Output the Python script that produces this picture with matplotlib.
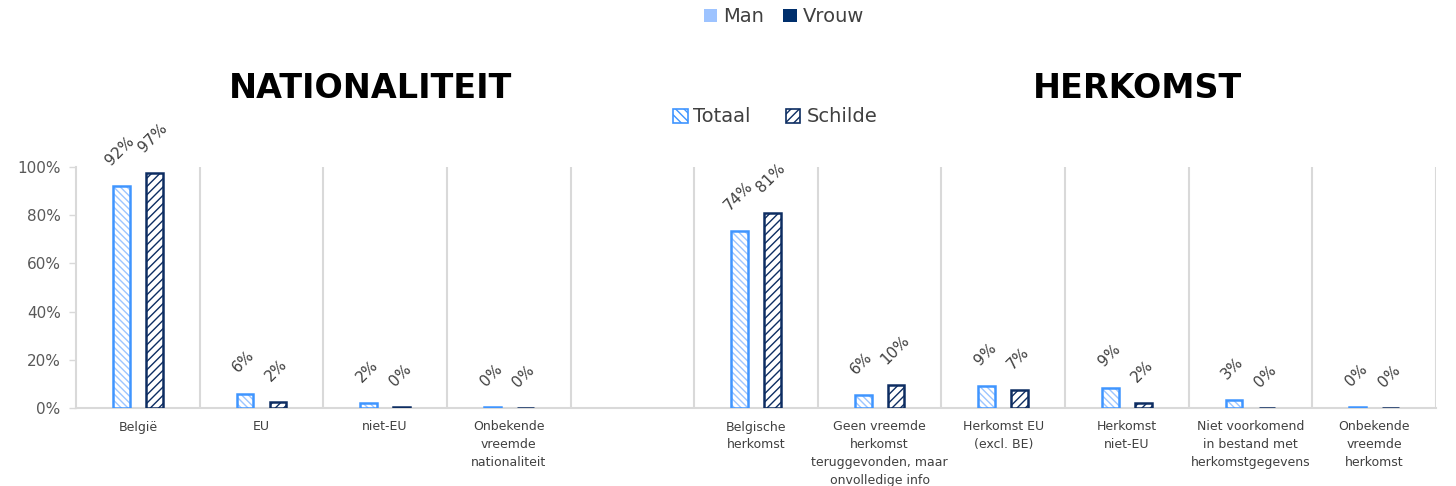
import matplotlib
matplotlib.use("Agg")
import matplotlib.pyplot as plt
from matplotlib.patches import Patch
import numpy as np

categories = ["België", "EU", "niet-EU", "Onbekende\nvreemde\nnationaliteit", "",
              "Belgische\nherkomst", "Geen vreemde\nherkomst\nteruggevonden, maar\nonvolledige info",
              "Herkomst EU\n(excl. BE)", "Herkomst\nniet-EU", "Niet voorkomend\nin bestand met\nherkomstgegevens",
              "Onbekende\nvreemde\nherkomst"]
totaal = [0.92, 0.06, 0.02, 0.004, None, 0.735, 0.055, 0.09, 0.085, 0.032, 0.003]
schilde = [0.975, 0.025, 0.005, 0.0, None, 0.81, 0.095, 0.073, 0.022, 0.0, 0.0]
totaal_labels = ["92%", "6%", "2%", "0%", None, "74%", "6%", "9%", "9%", "3%", "0%"]
schilde_labels = ["97%", "2%", "0%", "0%", None, "81%", "10%", "7%", "2%", "0%", "0%"]
yticks = [0, 0.2, 0.4, 0.6, 0.8, 1.0]
ytick_labels = ["0%", "20%", "40%", "60%", "80%", "100%"]

plt.rcParams['font.family'] = ['DejaVu Sans']
plt.rcParams['hatch.linewidth'] = 1.0

W, H = 1456, 486
fig = plt.figure(figsize=(W / 100, H / 100), dpi=100)
ax = fig.add_axes([76 / W, 1 - 408 / H, (1436 - 76) / W, (408 - 167) / H])

C_TOT_EDGE = "#3F95FF"
C_TOT_HATCH = "#9CC5FF"
C_SCH = "#0D2D62"
GRID = "#D9D9D9"
TXT = "#404040"

n = len(categories)
x = np.arange(n)
off = 0.133
bw = 0.135

for i in range(n):
    if totaal[i] is None:
        continue
    ax.bar(x[i] - off, totaal[i], bw, color="white", edgecolor=C_TOT_HATCH, hatch="\\\\\\\\\\", linewidth=0, zorder=3)
    ax.bar(x[i] - off, totaal[i], bw, fill=False, edgecolor=C_TOT_EDGE, linewidth=1.8, zorder=4)
    ax.bar(x[i] + off, schilde[i], bw, color="white", edgecolor=C_SCH, hatch="////", linewidth=0, zorder=3)
    ax.bar(x[i] + off, schilde[i], bw, fill=False, edgecolor=C_SCH, linewidth=1.8, zorder=4)
    ax.annotate(totaal_labels[i], (x[i] - off, totaal[i]), xytext=(-1, 13), textcoords="offset points",
                rotation=45, ha="center", va="bottom", fontsize=11, color=TXT)
    ax.annotate(schilde_labels[i], (x[i] + off, schilde[i]), xytext=(-1, 13), textcoords="offset points",
                rotation=45, ha="center", va="bottom", fontsize=11, color=TXT)

ax.set_xlim(-0.5, n - 0.5)
ax.set_ylim(0, 1.0)
ax.set_yticks(yticks)
ax.set_yticklabels(ytick_labels, fontsize=11, color="#595959")
ax.tick_params(axis="y", length=5, color=GRID, width=1, pad=6)
ax.set_xticks(x)
ax.set_xticklabels(categories, fontsize=9, color=TXT, linespacing=1.47, va="top")
ax.tick_params(axis="x", length=0, pad=9)

for b in np.arange(0.5, n, 1.0):
    ax.axvline(b, color=GRID, linewidth=1.5, zorder=1)
for s in ["top", "right"]:
    ax.spines[s].set_visible(False)
for s in ["left", "bottom"]:
    ax.spines[s].set_color(GRID)
    ax.spines[s].set_linewidth(1.5)

fig.text(370 / W, 1 - 88 / H, "NATIONALITEIT", fontsize=24, fontweight="bold",
         ha="center", va="center", color="black")
fig.text(1137 / W, 1 - 88 / H, "HERKOMST", fontsize=24, fontweight="bold",
         ha="center", va="center", color="black")

h1 = [Patch(facecolor="#9DC3FF", edgecolor="none"), Patch(facecolor="#002F6C", edgecolor="none")]
fig.legend(h1, ["Man", "Vrouw"], loc="center", bbox_to_anchor=(784 / W, 1 - 17 / H), ncol=2, frameon=False,
           fontsize=14, handlelength=0.7, handleheight=0.7, handletextpad=0.3, columnspacing=1.0, labelcolor=TXT)
h2 = [Patch(facecolor="white", edgecolor=C_TOT_EDGE, hatch="\\\\\\\\", linewidth=1.2),
      Patch(facecolor="white", edgecolor=C_SCH, hatch="////", linewidth=1.2)]
fig.legend(h2, ["Totaal", "Schilde"], loc="center", bbox_to_anchor=(775 / W, 1 - 117 / H), ncol=2, frameon=False,
           fontsize=14, handlelength=0.75, handleheight=0.75, handletextpad=0.3, columnspacing=1.8, labelcolor=TXT)

fig.savefig("out.png", dpi=100)
